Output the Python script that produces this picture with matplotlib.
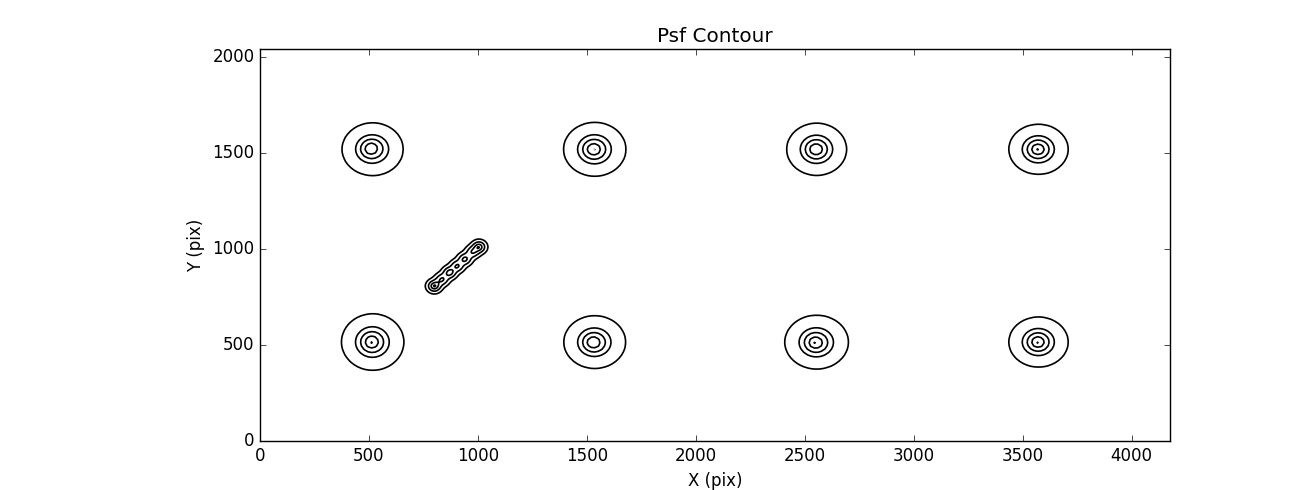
import numpy as np
import matplotlib
matplotlib.use("Agg")
import matplotlib.pyplot as plt

plt.style.use("classic")

# ── Data ───────────────────────────────────────────────────────────────────
X_MAX = 4176
Y_MAX = 2044

# star centres (pix)
star_x = [518, 1537, 2555, 3573, 518, 1537, 2555, 3573]
star_y = [1521, 1521, 1521, 1521, 516, 516, 516, 516]
# stretch of each psf in x / y (1.0 = round)
star_sx = [1.00, 1.02, 0.98, 0.97, 1.02, 1.01, 1.04, 0.97]
star_sy = [0.98, 1.00, 0.97, 0.93, 1.05, 0.98, 1.00, 0.93]
# shift of the bright core from the centre of the halo (pix)
core_dx = [-12, -8, -5, -5, -8, -10, -8, -5]
core_dy = [5, 0, 0, 0, 0, -3, -5, 0]

# radii (pix) at which the contour levels cross a round psf
ring_radii = [140, 76, 52, 30, 7]

# streak: points along the trail and relative brightness
streak_x = [800, 835, 870, 905, 940, 975, 1005]
streak_y = [808, 842, 878, 912, 948, 985, 1012]
streak_amp = [1.6, 1.2, 1.4, 1.2, 1.3, 1.1, 1.5]
STREAK_W = 19.0

SIGMA = 70.0
STEP = 16.0

# ── Field ──────────────────────────────────────────────────────────────────
gx = np.arange(0, X_MAX + STEP, STEP)
gy = np.arange(0, Y_MAX + STEP, STEP)
XX, YY = np.meshgrid(gx, gy)


def profile(r2):
    return np.exp(-r2 / (2 * SIGMA**2))


Z = np.zeros_like(XX)
for cx, cy, sx, sy, dx, dy in zip(star_x, star_y, star_sx, star_sy, core_dx, core_dy):
    r = np.sqrt(((XX - cx) / sx) ** 2 + ((YY - cy) / sy) ** 2)
    # core drifts off-centre towards the peak
    w = np.exp(-r / 60.0)
    r2 = ((XX - cx - dx * w) / sx) ** 2 + ((YY - cy - dy * w) / sy) ** 2
    Z += profile(r2)

fine = 5.0
fx = np.arange(700, 1100, fine)
fy = np.arange(720, 1100, fine)
FX, FY = np.meshgrid(fx, fy)
ZS = np.zeros_like(FX)
for sx_, sy_, a in zip(streak_x, streak_y, streak_amp):
    ZS += a * np.exp(-((FX - sx_) ** 2 + (FY - sy_) ** 2) / (2 * STREAK_W**2))

levels = sorted(profile(np.array(ring_radii, dtype=float) ** 2))

# ── Plot ───────────────────────────────────────────────────────────────────
fig = plt.figure(figsize=(13, 4.9), dpi=100, facecolor="white")
ax = fig.add_axes([0.2, 0.1, 0.7, 0.8])
ax.contour(XX, YY, Z, levels=levels, colors="k", linewidths=1.2)
ax.contour(FX, FY, ZS, levels=[0.15, 0.6, 1.2, 1.6, 1.9], colors="k", linewidths=1.2)

ax.set_xlim(0, X_MAX)
ax.set_ylim(0, Y_MAX)
ax.set_xticks(np.arange(0, 4001, 500))
ax.set_yticks(np.arange(0, 2001, 500))
ax.set_title("Psf Contour")
ax.set_xlabel("X (pix)")
ax.set_ylabel("Y (pix)")

plt.savefig("out.png", dpi=100, facecolor="white")
